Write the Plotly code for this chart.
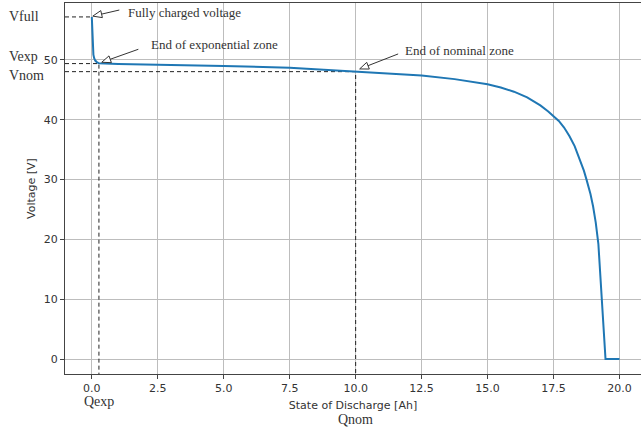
import math
import plotly.graph_objects as go

# ---- data ----
soc_ah = [0, 0.01, 0.02, 0.03, 0.04, 0.06, 0.09, 0.13, 0.19, 0.27, 1.0, 2.5, 5.0, 7.5, 10.0,
          11.25, 12.5, 13.75, 14.5, 15.0, 15.5, 16.0, 16.5, 17.0, 17.3, 17.5, 17.7, 17.9,
          18.1, 18.3, 18.5, 18.65, 18.75, 18.9, 19.0, 19.1, 19.2, 19.28, 19.35, 19.42, 19.47, 20.0]
voltage = [57.2, 56.0, 54.5, 53.0, 51.8, 50.9, 50.3, 49.9, 49.65, 49.45, 49.35, 49.25, 49.0, 48.7, 48.1,
           47.8, 47.4, 46.8, 46.35, 45.95, 45.4, 44.7, 43.75, 42.4, 41.4, 40.6, 39.8, 38.7,
           37.3, 35.6, 33.4, 31.5, 30.0, 27.6, 25.5, 22.8, 19.2, 13.8, 8.6, 3.5, 0.0, 0.0]

v_full, v_exp, v_nom = 57.2, 49.4, 48.05
q_exp, q_nom = 0.27, 10.0

x_ticks = [0, 2.5, 5, 7.5, 10, 12.5, 15, 17.5, 20]
x_tick_text = ["0.0", "2.5", "5.0", "7.5", "10.0", "12.5", "15.0", "17.5", "20.0"]
y_ticks = [0, 10, 20, 30, 40, 50]

X_RANGE = [-1.016, 20.815]
Y_RANGE = [-2.508, 59.53]

LINE_BLUE = "#1f77b4"
DARK = "#333333"
SERIF = "Liberation Serif, Times New Roman, serif"
SANS = "DejaVu Sans, sans-serif"

fig = go.Figure()

# dashed guide lines
dash_style = dict(color="#222222", width=1, dash="4px,3px")
fig.add_trace(go.Scatter(x=[X_RANGE[0], 0], y=[v_full, v_full], mode="lines",
                         line=dash_style, hoverinfo="skip", showlegend=False))
fig.add_trace(go.Scatter(x=[X_RANGE[0], q_exp, q_exp], y=[v_exp, v_exp, Y_RANGE[0]], mode="lines",
                         line=dash_style, hoverinfo="skip", showlegend=False))
fig.add_trace(go.Scatter(x=[X_RANGE[0], q_nom, q_nom], y=[v_nom, v_nom, Y_RANGE[0]], mode="lines",
                         line=dash_style, hoverinfo="skip", showlegend=False))

# discharge curve
fig.add_trace(go.Scatter(x=soc_ah, y=voltage, mode="lines",
                         line=dict(color=LINE_BLUE, width=2, shape="linear"),
                         showlegend=False))


def arrow_path(tip, tail, head_len=9.0, half_w=3.6):
    tx, ty = tip
    lx, ly = tail
    dx, dy = lx - tx, ly - ty
    d = math.hypot(dx, dy)
    ux, uy = dx / d, dy / d
    nx, ny = -uy, ux
    bx, by = tx + ux * head_len, ty + uy * head_len
    c1 = (bx + nx * half_w, by + ny * half_w)
    c2 = (bx - nx * half_w, by - ny * half_w)
    tri = f"M{tx:.2f},{ty:.2f} L{c1[0]:.2f},{c1[1]:.2f} L{c2[0]:.2f},{c2[1]:.2f} Z"
    stem = f"M{bx:.2f},{by:.2f} L{lx:.2f},{ly:.2f}"
    return stem, tri


arrows = [
    ((0, v_full), (1.0, 0.8), (27.5, 6.9)),
    ((q_exp, v_exp), (2.8, 1.3), (39.4, 14.3)),
    ((q_nom, v_nom), (4.0, 2.7), (42.5, 17.7)),
]
for (ax_, ay_), tip, tail in arrows:
    stem, tri = arrow_path(tip, tail)
    for p, fill in ((stem, None), (tri, "white")):
        fig.add_shape(type="path", xref="x", yref="y", xsizemode="pixel", ysizemode="pixel",
                      xanchor=ax_, yanchor=ay_, path=p,
                      line=dict(color=DARK, width=1),
                      fillcolor=fill if fill else "rgba(0,0,0,0)", layer="above")


def note(text, x, y, xref="paper", yref="paper", size=13, xanchor="left", yshift=0):
    fig.add_annotation(text=text, x=x, y=y, xref=xref, yref=yref, showarrow=False,
                       xanchor=xanchor, yanchor="middle", yshift=yshift,
                       font=dict(family=SERIF, size=size, color=DARK))


note("Fully charged voltage", 0.1059, 0.975)
note("End of exponential zone", 0.1458, 0.8887)
note("End of nominal zone", 0.5863, 0.8714)
note("Vfull", -0.1007, v_full, yref="y", size=14)
note("Vexp", -0.1007, v_exp, yref="y", size=14, yshift=7)
note("Vnom", -0.1007, v_nom, yref="y", size=14, yshift=-4)
note("Qexp", q_exp, -0.075, xref="x", size=14, xanchor="center")
note("Qnom", q_nom, -0.122, xref="x", size=14, xanchor="center")

fig.update_layout(
    width=641, height=432,
    margin=dict(l=65, r=0, t=3, b=58, autoexpand=False),
    paper_bgcolor="white", plot_bgcolor="white",
    font=dict(family=SANS, size=11, color=DARK),
    xaxis=dict(range=X_RANGE, tickvals=x_ticks, ticktext=x_tick_text, automargin=False,
               showgrid=True, gridcolor="#bdbdbd", gridwidth=1, zeroline=False,
               showline=True, linecolor="#444444", linewidth=1, mirror=True,
               ticks="outside", ticklen=4, tickcolor="#444444",
               tickfont=dict(family=SANS, size=11, color=DARK),
               title=dict(text="State of Discharge [Ah]", standoff=7,
                          font=dict(family=SANS, size=11, color=DARK))),
    yaxis=dict(range=Y_RANGE, tickvals=y_ticks, automargin=False,
               showgrid=True, gridcolor="#bdbdbd", gridwidth=1, zeroline=False,
               showline=True, linecolor="#444444", linewidth=1, mirror=False,
               ticks="outside", ticklen=4, tickcolor="#444444",
               tickfont=dict(family=SANS, size=11, color=DARK),
               title=dict(text="Voltage [V]", standoff=5,
                          font=dict(family=SANS, size=11, color=DARK))),
)

fig.write_html("out.html", config={"displayModeBar": False},
               post_script="document.body.style.margin='0';document.body.style.padding='0';")
